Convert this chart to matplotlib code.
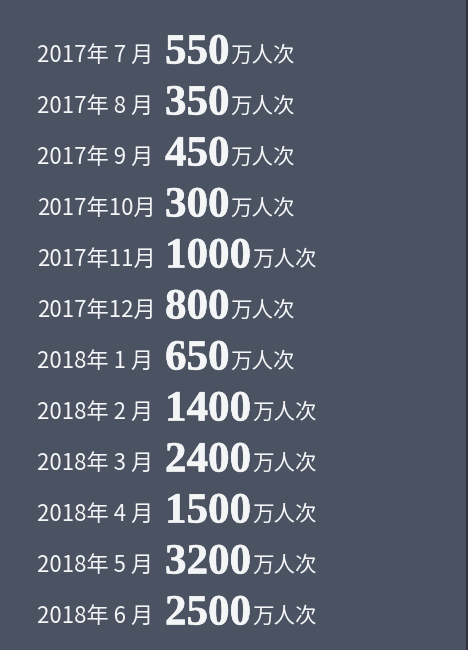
import matplotlib.pyplot as plt
import matplotlib.patheffects as pe

# monthly visits (unit: 万人次)
months = ["2017年 7 月", "2017年 8 月", "2017年 9 月", "2017年10月", "2017年11月", "2017年12月",
          "2018年 1 月", "2018年 2 月", "2018年 3 月", "2018年 4 月", "2018年 5 月", "2018年 6 月"]
values = [550, 350, 450, 300, 1000, 800, 650, 1400, 2400, 1500, 3200, 2500]
unit = "万人次"

bg = "#4b5363"
fg = "#f4f5f7"
label_font = ["Noto Sans CJK SC", "DejaVu Sans"]

fig = plt.figure(figsize=(4.68, 6.5), dpi=100, facecolor=bg)
ax = fig.add_axes([0, 0, 1, 1])
ax.set_facecolor(bg)
ax.set_xlim(0, 468)
ax.set_ylim(650, 0)
ax.axis("off")
ax.axvline(467, color="#2f3542", lw=1.5)

renderer = fig.canvas.get_renderer()
inv = ax.transData.inverted()

for i, (m, v) in enumerate(zip(months, values)):
    y = 62 + i * 51
    ax.text(37, y, m, family=label_font, fontsize=16, color=fg, va="baseline", ha="left")
    num = ax.text(165, y + 1.5, str(v), family="Liberation Serif", fontweight="bold",
                  fontsize=31, color=fg, va="baseline", ha="left",
                  path_effects=[pe.Stroke(linewidth=0.4, foreground=fg), pe.Normal()])
    bb = num.get_window_extent(renderer)
    x_end = inv.transform((bb.x1, bb.y0))[0]
    ax.text(x_end + 1, y, unit, family=label_font, fontsize=15.5, color=fg, va="baseline", ha="left")

fig.savefig("out.png", dpi=100, facecolor=bg)
